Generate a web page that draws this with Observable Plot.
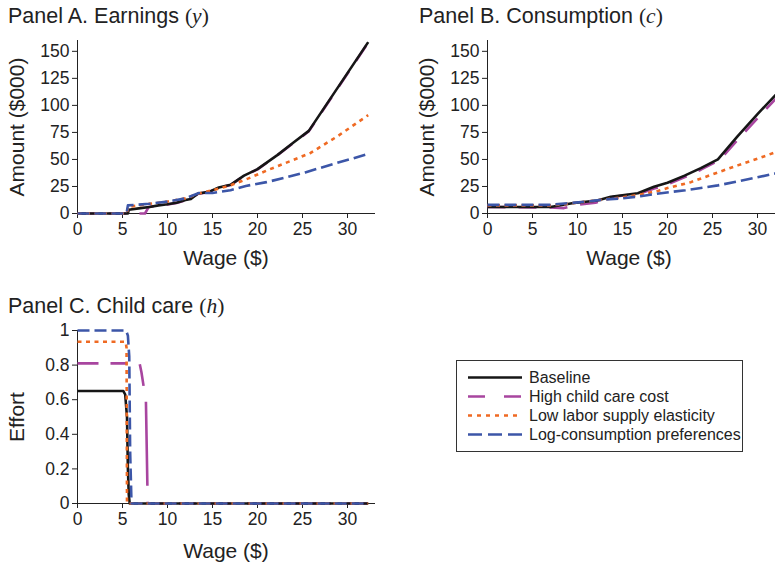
<!DOCTYPE html>
<html>
<head>
<meta charset="utf-8">
<script src="https://cdn.jsdelivr.net/npm/d3@7"></script>
<script src="https://cdn.jsdelivr.net/npm/@observablehq/plot@0.6"></script>
<style>
html, body { margin: 0; padding: 0; background: #fff; overflow: hidden; }
#root { position: relative; width: 775px; height: 570px; overflow: hidden; font-family: "Liberation Sans", Arial, Helvetica, sans-serif; color: #222; }
.title { position: absolute; font-size: 21.5px; line-height: 1; white-space: nowrap; }
.title .m { font-family: "Liberation Serif", "Times New Roman", serif; }
.panel { position: absolute; }
.panel svg { max-width: none; overflow: visible; }
#legend { position: absolute; left: 456px; top: 360px; width: 287px; height: 92px; box-sizing: border-box; border: 1px solid #333; padding-top: 7px; background: #fff; }
#legend .row { display: flex; align-items: center; height: 19px; font-size: 16px; white-space: nowrap; }
#legend .row svg { margin-left: 11px; display: block; }
#legend .row span { margin-left: 7px; }
</style>
</head>
<body>
<div id="root">
  <div class="title" style="left:8px;top:6px">Panel A. Earnings <span class="m">(<i>y</i>)</span></div>
  <div class="title" style="left:419px;top:6px">Panel B. Consumption <span class="m">(<i>c</i>)</span></div>
  <div class="title" style="left:8px;top:296px">Panel C. Child care <span class="m">(<i>h</i>)</span></div>
  <div class="panel" id="pA" style="left:0px;top:0px"></div>
  <div class="panel" id="pB" style="left:390px;top:0px"></div>
  <div class="panel" id="pC" style="left:0px;top:290px"></div>
  <div id="legend"></div>
</div>
<script>
// ---- series ----
const seriesNames = ["Baseline", "High child care cost", "Low labor supply elasticity", "Log-consumption preferences"];
const seriesColors = ["#161616", "#a8459f", "#ef6a23", "#3c56a8"];
const seriesDashes = [null, "18,13", "4,4.5", "12,5"];
const legendDashes = [null, "17,19", "4,5", "14,6"];
const panelCHighDash = "21,12,17,13,22,16,84,16";
const drawOrder = [1, 0, 2, 3];

// ---- ticks ----
const wageTicks = [0, 5, 10, 15, 20, 25, 30];
const amountTicks = [0, 25, 50, 75, 100, 125, 150];
const effortTicks = [0, 0.2, 0.4, 0.6, 0.8, 1];

// ---- Panel A: earnings ($000) ----
const wageA_base = [0, 5.6, 5.7, 7, 8, 9, 10, 11, 12, 12.6, 13.4, 14.6, 15.7, 17, 18.5, 20, 22.2, 24, 25.7, 32.3];
const earnA_base = [0, 0, 3.5, 5, 6, 7.5, 8.5, 10, 12.5, 13.5, 18.5, 20, 24, 26.5, 35, 41, 54, 65.6, 76.4, 158.5];
const wageA_high = [0, 7.5, 7.9, 9, 10, 11, 12, 12.6, 13.4, 14.6, 15.7, 17, 18.5, 20, 22.2, 24, 25.7, 32.3];
const earnA_high = [0, 0, 6, 7.3, 8.3, 9.8, 12.3, 13.3, 18.3, 19.8, 23.8, 26.3, 34.8, 40.8, 53.8, 65.3, 76, 158];
const wageA_low = [0, 5.5, 5.6, 8, 10, 12, 13.5, 15, 17, 19, 21.4, 23.5, 25.9, 28.9, 32.3];
const earnA_low = [0, 0, 6, 9, 11, 14, 18.5, 21.5, 26, 32.5, 41, 48, 56, 71.5, 91];
const wageA_log = [0, 5.45, 5.6, 8, 10, 12, 13.5, 15, 17, 18.7, 21, 23, 25.3, 28.5, 32.3];
const earnA_log = [0, 0, 7.5, 9, 11, 14, 19, 19, 21.5, 25.5, 29, 33, 38, 46, 55];

// ---- Panel B: consumption ($000) ----
const wageB_base = [0, 7, 9.4, 12.2, 13.7, 16.7, 18.5, 20, 21.9, 23.7, 25.6, 27.8, 30, 32.3];
const consB_base = [6, 6, 9.5, 12, 15.5, 18.7, 24.8, 28.5, 35, 42, 50, 71.5, 92, 112];
const wageB_high = [0, 7, 8.5, 10, 12, 13, 14, 17, 18.5, 20, 22, 23.7, 25.8, 28, 30.2, 32.3];
const consB_high = [6, 5.5, 5, 8, 10, 12.5, 15.5, 18.5, 23, 27, 34, 40.5, 49.5, 70, 90, 108.5];
const wageB_low = [0, 7, 9, 11, 13, 15, 17, 19, 20, 22.6, 25.6, 27.8, 30.1, 32.3];
const consB_low = [7.5, 7.5, 9, 11, 13, 15, 17.5, 21, 23.5, 29, 38, 44.5, 51, 57.5];
const wageB_log = [0, 7, 9, 11, 13, 15, 17, 19.5, 22, 25.6, 28, 30, 32.3];
const consB_log = [8, 8, 9.5, 11, 13, 14, 16, 19, 21.5, 26, 30, 33.5, 37.5];

// ---- Panel C: child care effort ----
const wageC_base = [0, 5.1, 5.3, 5.5, 5.6, 5.7, 5.8, 32.3];
const effC_base = [0.65, 0.65, 0.63, 0.5, 0.2, 0.05, 0, 0];
const wageC_high = [0, 6.9, 7.1, 7.37, 7.6, 7.7, 7.8, 32.3];
const effC_high = [0.81, 0.81, 0.76, 0.67, 0.6, 0.3, 0, 0];
const wageC_low = [0, 5.35, 5.45, 5.5, 32.3];
const effC_low = [0.935, 0.935, 0.9, 0, 0];
const wageC_log = [0, 5.4, 5.6, 5.75, 5.85, 6.0, 32.3];
const effC_log = [1, 1, 0.97, 0.85, 0.3, 0, 0];

function rowsOf(wages, values) {
  return wages.flatMap((ws, i) => ws.map((w, j) => ({wage: w, value: values[i][j], series: seriesNames[i]})));
}

function panel({rows, yDomain, yTicks, yLabel, width, marginLeft, marginRight, wageDx, wageDy, dashes}) {
  const lines = drawOrder.map(i => Plot.line(rows.filter(d => d.series === seriesNames[i]), {
    x: "wage", y: "value",
    stroke: seriesColors[i],
    strokeWidth: 2.6,
    strokeDasharray: dashes[i] || undefined,
    strokeLinejoin: "round",
    strokeLinecap: "butt"
  }));
  return Plot.plot({
    width, height: 275,
    marginTop: 40, marginBottom: 62, marginLeft, marginRight,
    style: {fontFamily: "'Liberation Sans', Arial, Helvetica, sans-serif", fontSize: "17.5px", color: "#222", background: "transparent", overflow: "visible"},
    x: {domain: [0, 33], ticks: wageTicks, tickFormat: d => String(d), tickSize: 5, tickPadding: 4, line: true, label: null},
    y: {domain: yDomain, ticks: yTicks, tickFormat: d => String(d), tickSize: 5, tickPadding: 3, line: true, label: null},
    marks: [
      ...lines,
      Plot.text(["Wage ($)"], {text: d => d, frameAnchor: "bottom", dx: wageDx, dy: wageDy, fontSize: 21, textAnchor: "middle", lineAnchor: "middle", fill: "#222"}),
      Plot.text([yLabel], {text: d => d, frameAnchor: "left", dx: -60, rotate: -90, fontSize: 21, textAnchor: "middle", lineAnchor: "middle", fill: "#222"})
    ]
  });
}

document.getElementById("pA").append(panel({
  rows: rowsOf([wageA_base, wageA_high, wageA_low, wageA_log], [earnA_base, earnA_high, earnA_low, earnA_log]),
  yDomain: [0, 160], yTicks: amountTicks, yLabel: "Amount ($000)",
  width: 385, marginLeft: 77, marginRight: 11, wageDx: 0, wageDy: 45, dashes: seriesDashes
}));
document.getElementById("pB").append(panel({
  rows: rowsOf([wageB_base, wageB_high, wageB_low, wageB_log], [consB_base, consB_high, consB_low, consB_log]),
  yDomain: [0, 160], yTicks: amountTicks, yLabel: "Amount ($000)",
  width: 400, marginLeft: 97, marginRight: 6, wageDx: -7, wageDy: 45, dashes: seriesDashes
}));
document.getElementById("pC").append(panel({
  rows: rowsOf([wageC_base, wageC_high, wageC_low, wageC_log], [effC_base, effC_high, effC_low, effC_log]),
  yDomain: [0, 1], yTicks: effortTicks, yLabel: "Effort",
  width: 385, marginLeft: 77, marginRight: 11, wageDx: 0, wageDy: 48,
  dashes: seriesDashes.map((d, i) => i === 1 ? panelCHighDash : d)
}));

// ---- legend ----
const legend = document.getElementById("legend");
seriesNames.forEach((name, i) => {
  const row = document.createElement("div");
  row.className = "row";
  const ns = "http://www.w3.org/2000/svg";
  const svg = document.createElementNS(ns, "svg");
  svg.setAttribute("width", 54); svg.setAttribute("height", 19);
  const ln = document.createElementNS(ns, "line");
  ln.setAttribute("x1", 0); ln.setAttribute("x2", 54);
  ln.setAttribute("y1", 9.5); ln.setAttribute("y2", 9.5);
  ln.setAttribute("stroke", seriesColors[i]);
  ln.setAttribute("stroke-width", 2.6);
  if (legendDashes[i]) ln.setAttribute("stroke-dasharray", legendDashes[i]);
  svg.append(ln);
  const span = document.createElement("span");
  span.textContent = name;
  row.append(svg, span);
  legend.append(row);
});
</script>
</body>
</html>
